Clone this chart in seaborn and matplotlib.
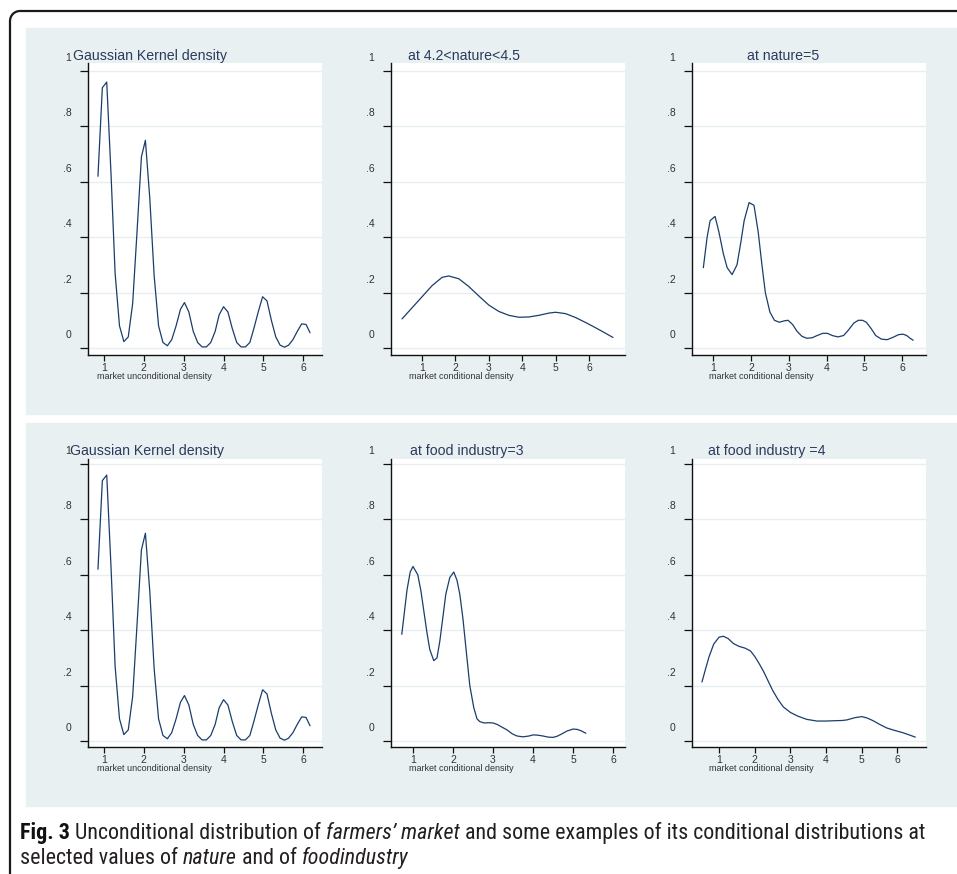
import matplotlib
matplotlib.use("Agg")
import matplotlib.pyplot as plt
import seaborn as sns
import pandas as pd
from matplotlib import transforms, patches, font_manager
from matplotlib.lines import Line2D

W, H = 957, 874

# unconditional density (same in both rows)
uncond_x = [0.85, 0.96, 1.07, 1.18, 1.28, 1.39, 1.50, 1.61, 1.72, 1.83,
            1.94, 2.04, 2.15, 2.26, 2.37, 2.48, 2.59, 2.70, 2.81, 2.92,
            3.02, 3.13, 3.24, 3.35, 3.46, 3.57, 3.68, 3.79, 3.89, 4.00,
            4.11, 4.22, 4.33, 4.44, 4.55, 4.66, 4.76, 4.87, 4.98, 5.09,
            5.20, 5.31, 5.42, 5.53, 5.63, 5.74, 5.85, 5.96, 6.07, 6.17]
uncond_y = [0.62, 0.94, 0.96, 0.62, 0.27, 0.08, 0.023, 0.04, 0.16, 0.42,
            0.69, 0.75, 0.54, 0.26, 0.08, 0.02, 0.008, 0.03, 0.08, 0.14,
            0.164, 0.13, 0.06, 0.02, 0.004, 0.004, 0.02, 0.06, 0.12, 0.149,
            0.13, 0.07, 0.02, 0.004, 0.004, 0.02, 0.07, 0.13, 0.185, 0.17,
            0.10, 0.04, 0.01, 0.003, 0.01, 0.03, 0.06, 0.087, 0.085, 0.055]

# at 4.2<nature<4.5
nat45_x = [0.40, 0.70, 1.00, 1.30, 1.60, 1.80, 2.10, 2.40, 2.70, 3.00, 3.30, 3.60,
           3.90, 4.20, 4.50, 4.80, 5.00, 5.30, 5.60, 5.90, 6.20, 6.50, 6.72]
nat45_y = [0.105, 0.145, 0.185, 0.225, 0.255, 0.260, 0.250, 0.222, 0.188, 0.155, 0.132, 0.118,
           0.111, 0.112, 0.118, 0.126, 0.129, 0.124, 0.110, 0.092, 0.073, 0.053, 0.038]

# at nature=5
nat5_x = [0.74, 0.84, 0.92, 1.05, 1.15, 1.27, 1.37, 1.50, 1.63, 1.73, 1.82, 1.95,
          2.08, 2.19, 2.29, 2.38, 2.50, 2.62, 2.75, 2.88, 2.98, 3.10, 3.22, 3.35,
          3.48, 3.62, 3.75, 3.90, 4.02, 4.15, 4.30, 4.45, 4.58, 4.72, 4.84, 4.95,
          5.05, 5.18, 5.30, 5.45, 5.60, 5.75, 5.90, 6.02, 6.12, 6.20, 6.29]
nat5_y = [0.29, 0.40, 0.46, 0.475, 0.42, 0.34, 0.29, 0.265, 0.30, 0.38, 0.46, 0.525,
          0.515, 0.42, 0.30, 0.20, 0.13, 0.10, 0.093, 0.098, 0.10, 0.085, 0.06, 0.042,
          0.035, 0.037, 0.045, 0.053, 0.053, 0.045, 0.04, 0.045, 0.065, 0.09, 0.10, 0.10,
          0.093, 0.07, 0.045, 0.032, 0.03, 0.038, 0.048, 0.05, 0.045, 0.036, 0.028]

# at food industry=3
food3_x = [0.72, 0.85, 0.93, 1.00, 1.12, 1.20, 1.27, 1.35, 1.42, 1.52, 1.60, 1.67,
           1.75, 1.82, 1.92, 2.02, 2.10, 2.17, 2.25, 2.32, 2.42, 2.52, 2.60, 2.67,
           2.78, 2.90, 3.00, 3.10, 3.20, 3.35, 3.48, 3.60, 3.75, 3.90, 4.00, 4.12,
           4.25, 4.38, 4.50, 4.60, 4.70, 4.85, 5.00, 5.10, 5.20, 5.32]
food3_y = [0.385, 0.545, 0.61, 0.63, 0.60, 0.54, 0.47, 0.39, 0.33, 0.29, 0.30, 0.36,
           0.45, 0.53, 0.59, 0.61, 0.58, 0.53, 0.44, 0.34, 0.20, 0.12, 0.08, 0.07,
           0.065, 0.066, 0.065, 0.06, 0.052, 0.04, 0.026, 0.018, 0.015, 0.018, 0.022, 0.021,
           0.018, 0.014, 0.013, 0.017, 0.024, 0.036, 0.043, 0.042, 0.037, 0.028]

# at food industry =4
food4_x = [0.52, 0.62, 0.72, 0.85, 1.00, 1.12, 1.25, 1.40, 1.55, 1.73, 1.88, 2.00,
           2.12, 2.25, 2.38, 2.50, 2.65, 2.80, 3.00, 3.20, 3.46, 3.74, 4.00, 4.20,
           4.45, 4.58, 4.80, 5.00, 5.15, 5.32, 5.50, 5.70, 5.90, 6.15, 6.35, 6.50]
food4_y = [0.213, 0.26, 0.305, 0.35, 0.375, 0.378, 0.37, 0.352, 0.342, 0.335, 0.325, 0.305,
           0.28, 0.25, 0.215, 0.183, 0.15, 0.123, 0.103, 0.09, 0.078, 0.072, 0.072, 0.073,
           0.074, 0.076, 0.084, 0.088, 0.083, 0.073, 0.06, 0.047, 0.039, 0.03, 0.021, 0.014]

x_ticks = [1, 2, 3, 4, 5, 6]
y_ticks = [0, 0.2, 0.4, 0.6, 0.8, 1]
y_tick_labels = ["0", ".2", ".4", ".6", ".8", "1"]

titles = ["Gaussian Kernel density", "at 4.2<nature<4.5", "at nature=5",
          "Gaussian Kernel density", "at food industry=3", "at food industry =4"]
xlabels = ["market unconditional density", "market conditional density", "market conditional density",
           "market unconditional density", "market conditional density", "market conditional density"]

sns.set_theme(style="white")
plt.rcParams["font.family"] = ["Liberation Sans", "DejaVu Sans"]

fig = plt.figure(figsize=(W / 100, H / 100), dpi=100)
fig.patch.set_facecolor("white")

# outer frame: left and top edges with a small rounded top-left corner
top = H - 11
frame_kw = dict(transform=None, color="#1a1a1a", lw=1.6, zorder=-2, solid_capstyle="butt")
fig.lines.append(Line2D([10, 10], [0, top - 10], **frame_kw))
fig.lines.append(Line2D([20, W], [top, top], **frame_kw))
fig.patches.append(patches.Arc((20, top - 10), 20, 20, theta1=90, theta2=180, transform=None,
                               color="#1a1a1a", lw=1.6, zorder=-2))
bg = "#e8f0f2"
fig.patches.append(patches.Rectangle((26, H - 414), W - 26, 386, transform=None, color=bg, zorder=-1))
fig.patches.append(patches.Rectangle((26, H - 806), W - 26, 383, transform=None, color=bg, zorder=-1))

series = [(uncond_x, uncond_y), (nat45_x, nat45_y), (nat5_x, nat5_y),
          (uncond_x, uncond_y), (food3_x, food3_y), (food4_x, food4_y)]
xlims = [(0.60, 6.47), (0.07, 7.08), (0.44, 6.63), (0.60, 6.47), (0.45, 6.30), (0.24, 6.80)]
lefts = [88, 391, 692]
title_pos = [(73, 56), (408, 56), (747, 56), (70, 451), (410, 451), (708, 451)]
xlabel_x = [0.038, 0.077, 0.073, 0.038, 0.077, 0.073]

offset = transforms.ScaledTranslation(0, 14 / 100, fig.dpi_scale_trans)
line_color = "#1b3d6b"

for i, (xs, ys) in enumerate(series):
    row, col = divmod(i, 3)
    if row == 0:
        bottom_px, top_px, ylim = 355, 63, (-0.0253, 1.029)
    else:
        bottom_px, top_px, ylim = 747, 459, (-0.0217, 1.018)
    ax = fig.add_axes([lefts[col] / W, 1 - bottom_px / H, 234 / W, (bottom_px - top_px) / H])
    ax.set_facecolor("white")
    df = pd.DataFrame({"x": xs, "density": ys})
    sns.lineplot(data=df, x="x", y="density", ax=ax, color=line_color, lw=0.9, estimator=None)
    ax.set_xlim(*xlims[i])
    ax.set_ylim(*ylim)
    ax.set_xticks(x_ticks, [str(t) for t in x_ticks])
    ax.set_yticks(y_ticks, y_tick_labels)
    ax.yaxis.grid(True, color="#e7eff1", lw=1.0)
    ax.xaxis.grid(False)
    for s in ["top", "right"]:
        ax.spines[s].set_visible(False)
    for s in ["left", "bottom"]:
        ax.spines[s].set_color("#111111")
        ax.spines[s].set_linewidth(1.0)
    ax.tick_params(axis="y", left=True, length=6, width=0.9, pad=6, labelsize=7.5, colors="#111111",
                   labelcolor="#333333")
    ax.tick_params(axis="x", bottom=True, length=4, width=0.9, pad=1.5, labelsize=7.5, colors="#111111",
                   labelcolor="#333333")
    for t in ax.yaxis.get_major_ticks():
        t.label1.set_transform(t.label1.get_transform() + offset)
    ax.set_ylabel("")
    ax.set_xlabel(xlabels[i], fontsize=6.5, color="#333333", loc="left")
    ax.xaxis.set_label_coords(xlabel_x[i], -0.058)
    tx, ty = title_pos[i]
    fig.text(tx / W, 1 - ty / H, titles[i], fontsize=10.2, color="#2c3a5c", ha="left", va="center")


# caption with mixed styles, in a narrow face when one is installed
def cap_family():
    for fam in ["Liberation Sans Narrow", "Roboto Condensed", "Open Sans Condensed"]:
        try:
            font_manager.findfont(font_manager.FontProperties(family=fam), fallback_to_default=False)
            return fam, "normal"
        except Exception:
            pass
    path = font_manager.findfont(font_manager.FontProperties(family="DejaVu Sans", stretch="condensed"))
    if "Condensed" in path:
        return "DejaVu Sans", "condensed"
    return "Liberation Sans", "normal"


fam, stretch = cap_family()
line1 = [("Fig. 3", "bold", "normal", "#111111"),
         (" Unconditional distribution of ", "normal", "normal", "#231f20"),
         ("farmers\u2019 market", "normal", "italic", "#231f20"),
         (" and some examples of its conditional distributions at", "normal", "normal", "#231f20")]
line2 = [("selected values of ", "normal", "normal", "#231f20"),
         ("nature", "normal", "italic", "#231f20"),
         (" and of ", "normal", "normal", "#231f20"),
         ("foodindustry", "normal", "italic", "#231f20")]

renderer = fig.canvas.get_renderer()


def draw_runs(runs, x0, y_base, size):
    x = x0
    made = []
    for text, weight, style, color in runs:
        t = fig.text(x / W, 1 - y_base / H, text, fontsize=size, fontweight=weight, fontstyle=style,
                     family=fam, fontstretch=stretch, color=color, ha="left", va="baseline")
        made.append(t)
        x = t.get_window_extent(renderer).x1
    return made, x - x0


trial, width = draw_runs(line1, 20, 839, 12)
for t in trial:
    t.remove()
size = min(12 * 907 / width, 16)
draw_runs(line1, 20, 839, size)
draw_runs(line2, 20, 864, size)

fig.savefig("out.png", dpi=100)
